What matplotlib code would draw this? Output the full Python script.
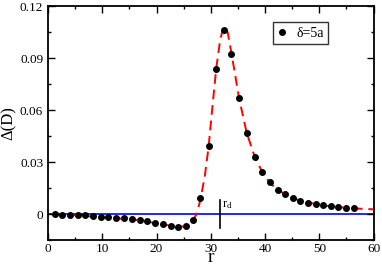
import matplotlib
matplotlib.use("Agg")
import matplotlib.pyplot as plt
from matplotlib.ticker import MultipleLocator

plt.rcParams["font.family"] = ["Liberation Serif", "DejaVu Serif"]
plt.rcParams["mathtext.fontset"] = "custom"
plt.rcParams["mathtext.rm"] = "Liberation Serif"
plt.rcParams["mathtext.it"] = "Liberation Serif"

# 数据点 (delta = 5a)
r_pts = [1.29, 2.6, 4.05, 5.5, 6.9, 8.3, 9.8, 11.1, 12.6, 14.0,
         15.5, 17.0, 18.3, 19.7, 21.1, 22.6, 24.0, 25.4, 26.7, 28.1,
         29.6, 31.0, 32.4, 33.8, 35.2, 36.6, 38.1, 39.5, 40.9, 42.3,
         43.7, 45.1, 46.5, 47.9, 49.3, 50.7, 52.1, 53.5, 54.9, 56.3]
d_pts = [0.0000, -0.0003, -0.0004, -0.0006, -0.0008, -0.0012, -0.0015, -0.0019, -0.0021, -0.0025,
         -0.0030, -0.0035, -0.0043, -0.0052, -0.0058, -0.0068, -0.0073, -0.0071, -0.0033, 0.0090,
         0.0392, 0.0837, 0.1064, 0.0921, 0.0668, 0.0466, 0.0331, 0.0241, 0.0183, 0.0141,
         0.0114, 0.0091, 0.0077, 0.0066, 0.0058, 0.0050, 0.0044, 0.0040, 0.0037, 0.0033]

# 拟合曲线 (红色虚线)
r_fit = [1.3, 5, 10, 14, 17, 19, 21, 22.5, 24, 25.2, 26.2, 27.4, 28.1, 28.9,
         29.6, 30.3, 31.0, 31.7, 32.2, 32.6, 33.1, 33.8, 34.5, 35.2, 36.6,
         38.1, 39.5, 40.9, 42.3, 45.1, 48, 52, 56, 60]
d_fit = [0.0, -0.0007, -0.0019, -0.0028, -0.0036, -0.0048, -0.0059, -0.0067, -0.0073, -0.0072,
         -0.0058, 0.0, 0.0085, 0.022, 0.039, 0.062, 0.084, 0.100, 0.1065, 0.108,
         0.105, 0.093, 0.080, 0.067, 0.047, 0.033, 0.024, 0.018, 0.014, 0.009,
         0.0066, 0.0044, 0.0033, 0.0027]

r_d = 31.7
legend_label = "δ=5a"

fig = plt.figure(figsize=(3.82, 2.66), dpi=100)
ax = fig.add_axes([0.1257, 0.0977, 0.8523, 0.8793])

ax.axhline(0, color="#0000ff", lw=1.2, zorder=1)
ax.plot(r_fit, d_fit, color="#ff0000", lw=1.4, ls=(0, (5, 3)), zorder=2)
ax.plot(r_pts, d_pts, "o", color="black", ms=4, zorder=3, label=legend_label)
ax.plot([r_d, r_d], [-0.0083, 0.0079], color="black", lw=1.2, zorder=3)
ax.text(r_d + 0.3, 0.0042, r"$\mathregular{r_d}$", fontsize=9, va="baseline", ha="left")

ax.set_xlim(0, 60)
ax.set_ylim(-0.015, 0.12)
ax.xaxis.set_major_locator(MultipleLocator(10))
ax.xaxis.set_minor_locator(MultipleLocator(5))
ax.yaxis.set_minor_locator(MultipleLocator(0.015))
ax.set_yticks([0, 0.03, 0.06, 0.09, 0.12])
ax.set_yticklabels(["0", "0.03", "0.06", "0.09", "0.12"])
ax.tick_params(which="both", direction="in", top=True, right=True, width=1.0)
ax.tick_params(which="major", length=5, labelsize=9.5)
ax.tick_params(axis="x", which="major", pad=2)
ax.tick_params(which="minor", length=2.5)
for s in ax.spines.values():
    s.set_linewidth(1.3)

# x 轴标题直接放在图底部
fig.text(0.5514, 0.0, "r", fontsize=14, ha="center", va="bottom")
ax.set_ylabel("Δ(D)", fontsize=12, labelpad=2)

leg = ax.legend(loc="upper right", bbox_to_anchor=(0.86, 0.93), fontsize=10,
                frameon=True, fancybox=False, edgecolor="black",
                handlelength=0.8, handletextpad=0.6, borderpad=0.3,
                borderaxespad=0.0)
leg.get_frame().set_linewidth(1.0)

fig.savefig("out.png", dpi=100)
